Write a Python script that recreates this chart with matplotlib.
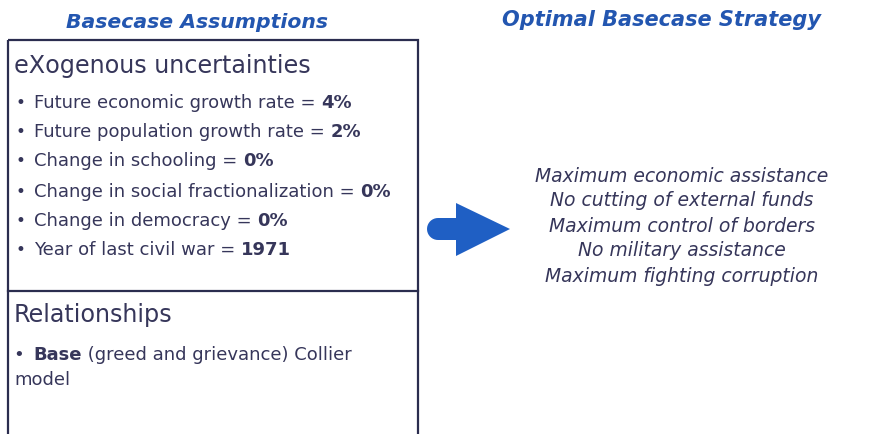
import numpy as np
import matplotlib

matplotlib.use("Agg")
import matplotlib.pyplot as plt
from matplotlib.patches import Polygon, Rectangle

# text content of the slide
LEFT_TITLE = "Basecase Assumptions"
RIGHT_TITLE = "Optimal Basecase Strategy"
EXO_HEADER = "eXogenous uncertainties"
EXO_LABELS = [
    "Future economic growth rate = ",
    "Future population growth rate = ",
    "Change in schooling = ",
    "Change in social fractionalization = ",
    "Change in democracy = ",
    "Year of last civil war = ",
]
EXO_VALUES = ["4%", "2%", "0%", "0%", "0%", "1971"]
REL_HEADER = "Relationships"
REL_PARTS = [("• ", "normal"), ("Base", "bold"), (" (greed and grievance) Collier", "normal")]
REL_LINE2 = "model"
STRATEGY = [
    "Maximum economic assistance",
    "No cutting of external funds",
    "Maximum control of borders",
    "No military assistance",
    "Maximum fighting corruption",
]

TITLE_BLUE = "#2356b0"
TEXT_DARK = "#36365a"
BOX_EDGE = "#2b2d4f"
ARROW_BLUE = "#1f5fc4"
FONT = "DejaVu Sans"

fig = plt.figure(figsize=(8.73, 4.34), dpi=100)
ax = fig.add_axes([0, 0, 1, 1])
ax.set_xlim(0, 873)
ax.set_ylim(434, 0)
ax.axis("off")

# titles
ax.text(197, 22, LEFT_TITLE, ha="center", va="center", fontsize=14.7,
        style="italic", weight="bold", color=TITLE_BLUE, family=FONT)
ax.text(661, 20, RIGHT_TITLE, ha="center", va="center", fontsize=15,
        style="italic", weight="bold", color=TITLE_BLUE, family=FONT)

# assumptions box
ax.add_patch(Rectangle((8, 40), 410, 400, fill=False, edgecolor=BOX_EDGE, lw=1.6))
ax.plot([8, 418], [291, 291], color=BOX_EDGE, lw=1.6)

ax.text(14, 66, EXO_HEADER, ha="left", va="center", fontsize=17.2,
        color=TEXT_DARK, family=FONT)

ys = [103, 132, 161, 192, 221, 250]
for y, lab, val in zip(ys, EXO_LABELS, EXO_VALUES):
    ax.text(20, y, "•", ha="center", va="center", fontsize=12,
            color=TEXT_DARK, family=FONT)
    t = ax.text(34, y, lab, ha="left", va="center", fontsize=13,
                color=TEXT_DARK, family=FONT)
    ax.annotate(val, xy=(1, 0), xycoords=t, ha="left", va="bottom",
                fontsize=13, weight="bold", color=TEXT_DARK, family=FONT)

ax.text(14, 315, REL_HEADER, ha="left", va="center", fontsize=17.2,
        color=TEXT_DARK, family=FONT)
prev = None
for part, w in REL_PARTS:
    if prev is None:
        prev = ax.text(14, 355, part, ha="left", va="center", fontsize=13,
                       weight=w, color=TEXT_DARK, family=FONT)
    else:
        shift = 3 if w == "bold" else 0
        prev = ax.annotate(part, xy=(1, 0), xycoords=prev, xytext=(shift, 0),
                           textcoords="offset pixels", ha="left",
                           va="bottom", fontsize=13, weight=w,
                           color=TEXT_DARK, family=FONT)
ax.text(14, 380, REL_LINE2, ha="left", va="center", fontsize=13,
        color=TEXT_DARK, family=FONT)

# block arrow with rounded tail
r = 11
theta = np.linspace(np.pi / 2, 3 * np.pi / 2, 20)
tail = np.column_stack([438 + r * np.cos(theta), 229 - r * np.sin(theta)])
body = np.array([[456, 240], [456, 256], [510, 229], [456, 203], [456, 218]])
ax.add_patch(Polygon(np.vstack([[[438, 218]], tail[1:], body]),
                     closed=True, facecolor=ARROW_BLUE, edgecolor="none"))

for i, line in enumerate(STRATEGY):
    ax.text(682, 176 + 25 * i, line, ha="center", va="center", fontsize=13.5,
            style="italic", color=TEXT_DARK, family=FONT)

fig.savefig("out.png", dpi=100)
